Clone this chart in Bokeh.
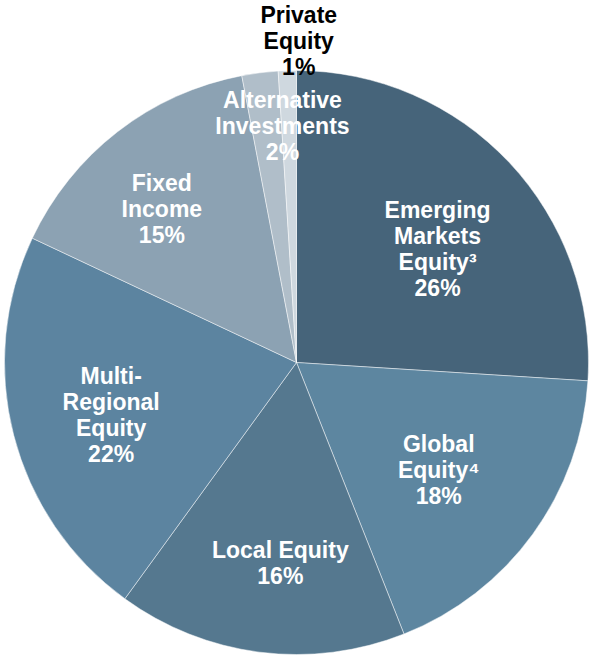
import math
from bokeh.plotting import figure
from bokeh.models import Range1d, ColumnDataSource
from bokeh.core.properties import value
from bokeh.embed import file_html
from bokeh.resources import INLINE

# ---- data ----
categories = ["Emerging Markets Equity", "Global Equity", "Local Equity",
              "Multi-Regional Equity", "Fixed Income", "Alternative Investments",
              "Private Equity"]
shares = [26, 18, 16, 22, 15, 2, 1]
label_texts = ["Emerging\nMarkets\nEquity\u00b3\n26%",
               "Global\nEquity\u2074\n18%",
               "Local Equity\n16%",
               "Multi-\nRegional\nEquity\n22%",
               "Fixed\nIncome\n15%",
               "Alternative\nInvestments\n2%",
               "Private\nEquity\n1%"]
colors = ["#46647a", "#5d86a0", "#55788f", "#5c84a0", "#8ca2b3", "#b0bec9", "#cfd8df"]
label_colors = ["white", "white", "white", "white", "white", "white", "black"]
# label placement (degrees clockwise from 12 o'clock, fraction of radius)
label_ang = [51.2, 127.0, 184.6, 254.1, 318.8, 356.6, 0.4]
label_rad = [0.62, 0.61, 0.69, 0.66, 0.70, 0.81, 1.10]

# ---- layout (reference pixel coordinates) ----
W, H = 593, 655
cx, cy, R = 296, 655 - 362, 292

total = float(sum(shares))
starts, ends = [], []
acc = 0.0
for s in shares:
    starts.append(math.pi / 2 - acc / total * 2 * math.pi)
    acc += s
    ends.append(math.pi / 2 - acc / total * 2 * math.pi)

lx = [cx + r * R * math.sin(math.radians(a)) for a, r in zip(label_ang, label_rad)]
ly = [cy + r * R * math.cos(math.radians(a)) for a, r in zip(label_ang, label_rad)]

pw, ph = 593, 655
p = figure(width=pw, height=ph, output_backend="svg", toolbar_location=None,
           x_range=Range1d(0, W), y_range=Range1d(0, H))
p.axis.visible = False
p.grid.visible = False
p.outline_line_color = None
p.min_border = 0
p.background_fill_color = "white"

src = ColumnDataSource(dict(start=starts, end=ends, color=colors, cat=categories))
p.wedge(x=cx, y=cy, radius=R, start_angle="start", end_angle="end",
        direction="clock", fill_color="color", line_color="white",
        line_width=0.8, line_alpha=0.6, source=src)

lsrc = ColumnDataSource(dict(x=lx, y=ly, t=label_texts, c=label_colors))
p.text(x="x", y="y", text="t", text_color="c", source=lsrc,
       text_font=value("Liberation Sans"), text_font_style="bold",
       text_font_size="23px", text_align="center", text_baseline="middle",
       text_line_height=1.0)

open("out.html", "w").write(file_html(p, INLINE))
